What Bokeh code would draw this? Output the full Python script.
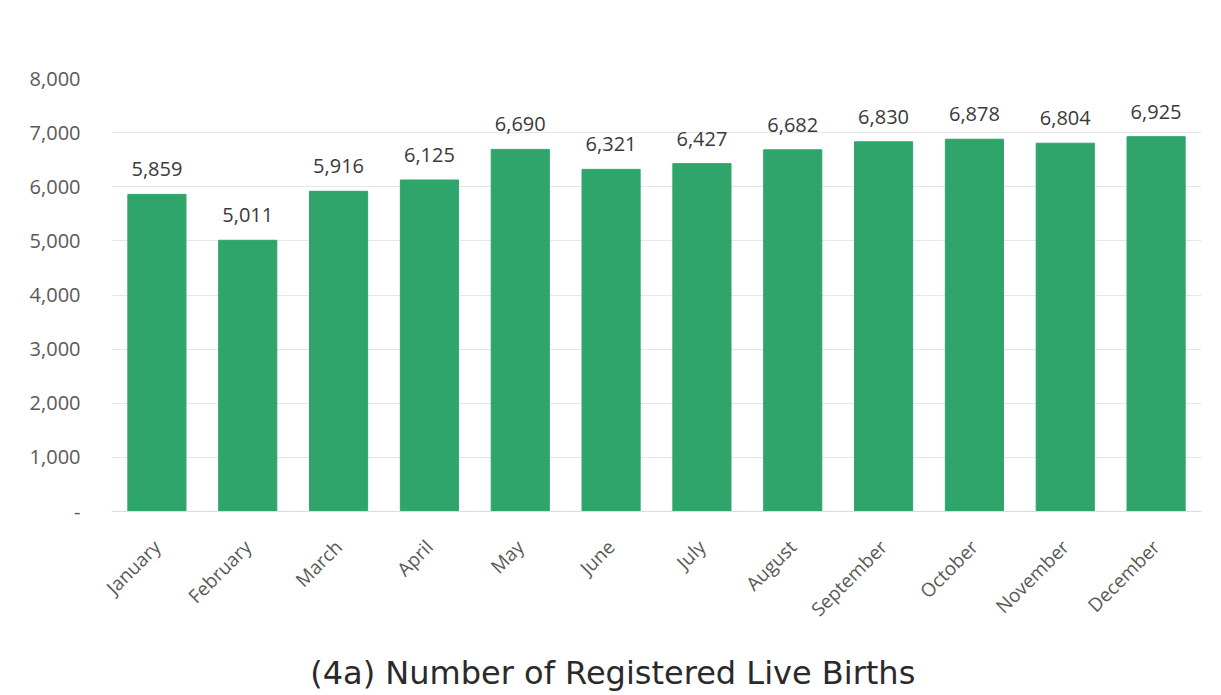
from bokeh.plotting import figure
from bokeh.layouts import column
from bokeh.models import ColumnDataSource, FixedTicker, LabelSet, CustomJSTickFormatter, Range1d
from bokeh.core.properties import value
from bokeh.embed import file_html
from bokeh.resources import INLINE
import math

months = ["January", "February", "March", "April", "May", "June", "July",
          "August", "September", "October", "November", "December"]
births = [5859, 5011, 5916, 6125, 6690, 6321, 6427, 6682, 6830, 6878, 6804, 6925]
y_ticks = [0, 1000, 2000, 3000, 4000, 5000, 6000, 7000, 8000]
title_text = "(4a) Number of Registered Live Births"

labels = ["{:,}".format(v) for v in births]
src = ColumnDataSource(dict(month=months, births=births, label=labels))

W = 1209
p = figure(x_range=months, y_range=(0, 8000), width=W, height=640,
           output_backend="svg", toolbar_location=None,
           min_border_left=111, min_border_right=8, min_border_top=78, min_border_bottom=129)

p.vbar(x="month", top="births", width=0.64, source=src, color="#2fa56b")

lbl = LabelSet(x="month", y="births", text="label", source=src, text_align="center",
               y_offset=18, text_font_size="20px", text_color="#3a3a3a",
               text_font=value("Open Sans"))
p.add_layout(lbl)

p.yaxis.ticker = FixedTicker(ticks=y_ticks)
p.yaxis.formatter = CustomJSTickFormatter(code="return tick == 0 ? '-' : tick.toLocaleString('en-US');")
p.yaxis.axis_line_color = None
p.yaxis.major_tick_line_color = None
p.yaxis.minor_tick_line_color = None
p.yaxis.major_label_text_font_size = "20px"
p.yaxis.major_label_text_color = "#595959"
p.yaxis.major_label_text_font = "Open Sans"
p.yaxis.major_label_standoff = 25

p.xaxis.axis_line_color = "#dcdcdc"
p.xaxis.major_tick_line_color = None
p.xaxis.minor_tick_line_color = None
p.xaxis.major_label_orientation = math.pi / 4
p.xaxis.major_label_text_font_size = "19px"
p.xaxis.major_label_text_color = "#595959"
p.xaxis.major_label_text_font = "Open Sans"
p.xaxis.major_label_standoff = 26

p.xgrid.grid_line_color = None
p.ygrid.grid_line_color = "#e6e6e6"
p.outline_line_color = None
p.border_line_color = None

# title strip below the chart
TH = 55
t = figure(x_range=Range1d(0, W), y_range=Range1d(0, TH), width=W, height=TH,
           output_backend="svg", toolbar_location=None,
           x_axis_location=None, y_axis_location=None,
           min_border=0, min_border_left=0, min_border_right=0,
           min_border_top=0, min_border_bottom=0)
t.grid.visible = False
t.outline_line_color = None
t.text(x=[556], y=[23], text=[title_text], text_align="center", text_baseline="alphabetic",
       text_font=value("DejaVu Sans"), text_font_size="32px", text_color="#2a2a2a")

layout = column(p, t, spacing=0)
open("out.html", "w").write(file_html(layout, INLINE))
